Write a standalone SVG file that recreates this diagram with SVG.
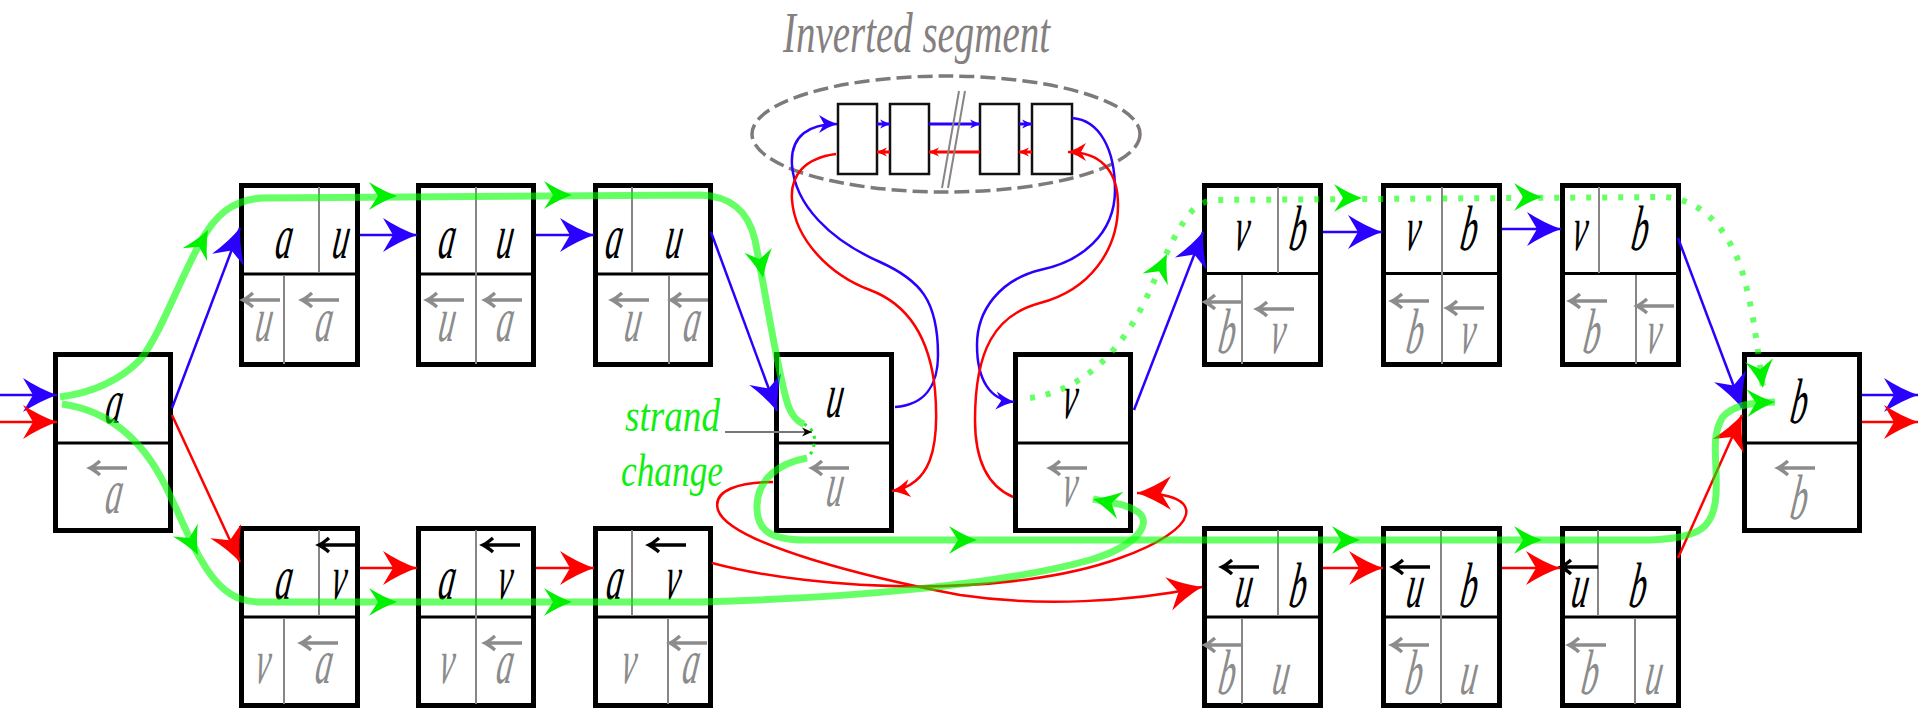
<svg xmlns="http://www.w3.org/2000/svg" width="1920" height="709" viewBox="0 0 1920 709">
<defs>
<style>
.box{fill:#fff;stroke:#000;stroke-width:5}
.sbox{fill:#fff;stroke:#111;stroke-width:2.5}
.hd{stroke:#000;stroke-width:3}
.vd{stroke:#8a8585;stroke-width:2}
.m{font-family:"Liberation Serif","DejaVu Serif",serif;font-style:italic;font-size:64px;text-anchor:middle}
.k{fill:#000}
.g{fill:#8c8c8c}
.ga{fill:none;stroke:#8c8c8c;stroke-width:3.5}
.ka{fill:none;stroke:#000;stroke-width:3.5}
.bl{fill:none;stroke:#2a00ff;stroke-width:2.5}
.rd{fill:none;stroke:#ff0000;stroke-width:2.5}
.th{stroke-width:3}
.gr{fill:none;stroke:#00ff00;stroke-opacity:.6;stroke-width:7}
.gd{fill:none;stroke:#00ff00;stroke-opacity:.6;stroke-width:6;stroke-dasharray:5 11}
.gh{fill:#00f000}
.lbl{font-family:"Liberation Serif","DejaVu Serif",serif;font-style:italic}
</style>
<path id="hL" d="M0,0 Q-17,-6 -34,-17 L-24,0 L-34,17 Q-17,6 0,0Z"/>
<path id="hM" d="M0,0 Q-9,-3 -18,-9 L-13,0 L-18,9 Q-9,3 0,0Z"/>
<path id="hS" d="M0,0 L-10,-4.5 L-7,0 L-10,4.5Z"/>
<path id="hG" d="M0,0 Q-14,-5 -28,-14 L-19,0 L-28,14 Q-14,5 0,0Z"/>
<path id="oa" d="M0,0 H37 M10,-7 Q4,-2 0,0 Q4,2 10,7"/>
<marker id="mbL" viewBox="-40 -20 44 40" markerWidth="44" markerHeight="40" refX="0" refY="0" orient="auto" markerUnits="userSpaceOnUse"><use href="#hL" fill="#2a00ff"/></marker>
<marker id="mrL" viewBox="-40 -20 44 40" markerWidth="44" markerHeight="40" refX="0" refY="0" orient="auto" markerUnits="userSpaceOnUse"><use href="#hL" fill="#ff0000"/></marker>
<marker id="mbM" viewBox="-22 -12 26 24" markerWidth="26" markerHeight="24" refX="0" refY="0" orient="auto" markerUnits="userSpaceOnUse"><use href="#hM" fill="#2a00ff"/></marker>
<marker id="mrM" viewBox="-22 -12 26 24" markerWidth="26" markerHeight="24" refX="0" refY="0" orient="auto" markerUnits="userSpaceOnUse"><use href="#hM" fill="#ff0000"/></marker>
<marker id="mbS" viewBox="-12 -6 14 12" markerWidth="14" markerHeight="12" refX="0" refY="0" orient="auto" markerUnits="userSpaceOnUse"><use href="#hS" fill="#2a00ff"/></marker>
<marker id="mrS" viewBox="-12 -6 14 12" markerWidth="14" markerHeight="12" refX="0" refY="0" orient="auto" markerUnits="userSpaceOnUse"><use href="#hS" fill="#ff0000"/></marker>
<marker id="mkS" viewBox="-12 -6 14 12" markerWidth="14" markerHeight="12" refX="0" refY="0" orient="auto" markerUnits="userSpaceOnUse"><use href="#hS" fill="#000"/></marker>
<marker id="mgE" viewBox="-32 -16 36 32" markerWidth="36" markerHeight="32" refX="0" refY="0" orient="auto" markerUnits="userSpaceOnUse"><use href="#hG" fill="#00f000"/></marker>
</defs>
<rect width="1920" height="709" fill="#fff"/>

<!-- inverted segment -->
<g id="inverted-segment">
<text class="lbl" x="783" y="52" font-size="58" fill="#857f7f" textLength="267" lengthAdjust="spacingAndGlyphs">Inverted segment</text>
<ellipse cx="946" cy="134" rx="194" ry="58" fill="none" stroke="#7f7a7a" stroke-width="3.5" stroke-dasharray="15 6"/>
<rect class="sbox" x="838" y="104" width="39" height="70"/>
<rect class="sbox" x="890" y="104" width="39" height="70"/>
<rect class="sbox" x="980" y="104" width="39" height="70"/>
<rect class="sbox" x="1032" y="104" width="40" height="70"/>
</g>

<!-- left node a -->
<g id="node-a">
<rect class="box" x="55.5" y="354.5" width="115" height="176"/>
<line class="hd" x1="57" y1="443" x2="169" y2="443"/>
<text class="m k" transform="translate(112,423) skewX(-8) scale(.52,1)">a</text>
<use href="#oa" class="ga" x="90" y="468"/>
<text class="m g" transform="translate(112,513) skewX(-8) scale(.52,1)">a</text>
</g>

<!-- upper strand a-u -->
<g id="node-au1">
<rect class="box" x="241.5" y="185.5" width="116" height="179"/>
<line class="hd" x1="243" y1="274" x2="356" y2="274"/>
<line class="vd" x1="319" y1="187" x2="319" y2="273"/>
<line class="vd" x1="284" y1="275" x2="284" y2="364"/>
<text class="m k" transform="translate(282,258) skewX(-8) scale(.52,1)">a</text>
<text class="m k" transform="translate(339,258) skewX(-8) scale(.52,1)">u</text>
<use href="#oa" class="ga" x="243" y="300"/>
<text class="m g" transform="translate(262,341) skewX(-8) scale(.52,1)">u</text>
<use href="#oa" class="ga" x="302" y="300"/>
<text class="m g" transform="translate(322,341) skewX(-8) scale(.52,1)">a</text>
</g>
<g id="node-au2">
<rect class="box" x="418.5" y="185.5" width="115" height="179"/>
<line class="hd" x1="420" y1="274" x2="532" y2="274"/>
<line class="vd" x1="476" y1="187" x2="476" y2="364"/>
<text class="m k" transform="translate(445,258) skewX(-8) scale(.52,1)">a</text>
<text class="m k" transform="translate(503,258) skewX(-8) scale(.52,1)">u</text>
<use href="#oa" class="ga" x="427" y="300"/>
<text class="m g" transform="translate(445,341) skewX(-8) scale(.52,1)">u</text>
<use href="#oa" class="ga" x="485" y="300"/>
<text class="m g" transform="translate(503,341) skewX(-8) scale(.52,1)">a</text>
</g>
<g id="node-au3">
<rect class="box" x="595.5" y="185.5" width="115" height="179"/>
<line class="hd" x1="597" y1="274" x2="709" y2="274"/>
<line class="vd" x1="632" y1="187" x2="632" y2="273"/>
<line class="vd" x1="669" y1="275" x2="669" y2="364"/>
<text class="m k" transform="translate(612,258) skewX(-8) scale(.52,1)">a</text>
<text class="m k" transform="translate(672,258) skewX(-8) scale(.52,1)">u</text>
<use href="#oa" class="ga" x="612" y="300"/>
<text class="m g" transform="translate(631,341) skewX(-8) scale(.52,1)">u</text>
<use href="#oa" class="ga" x="671" y="300"/>
<text class="m g" transform="translate(690,341) skewX(-8) scale(.52,1)">a</text>
</g>

<!-- lower strand a-v -->
<g id="node-av1">
<rect class="box" x="241.5" y="528.5" width="116" height="177"/>
<line class="hd" x1="243" y1="617" x2="356" y2="617"/>
<line class="vd" x1="319" y1="530" x2="319" y2="616"/>
<line class="vd" x1="284" y1="618" x2="284" y2="704"/>
<text class="m k" transform="translate(282,599) skewX(-8) scale(.52,1)">a</text>
<use href="#oa" class="ka" x="319" y="545"/>
<text class="m k" transform="translate(337,599) skewX(-8) scale(.52,1)">v</text>
<text class="m g" transform="translate(261,683) skewX(-8) scale(.52,1)">v</text>
<use href="#oa" class="ga" x="301" y="643"/>
<text class="m g" transform="translate(322,683) skewX(-8) scale(.52,1)">a</text>
</g>
<g id="node-av2">
<rect class="box" x="418.5" y="528.5" width="115" height="177"/>
<line class="hd" x1="420" y1="617" x2="532" y2="617"/>
<line class="vd" x1="476" y1="530" x2="476" y2="704"/>
<text class="m k" transform="translate(445,599) skewX(-8) scale(.52,1)">a</text>
<use href="#oa" class="ka" x="483" y="545"/>
<text class="m k" transform="translate(503,599) skewX(-8) scale(.52,1)">v</text>
<text class="m g" transform="translate(445,683) skewX(-8) scale(.52,1)">v</text>
<use href="#oa" class="ga" x="485" y="643"/>
<text class="m g" transform="translate(503,683) skewX(-8) scale(.52,1)">a</text>
</g>
<g id="node-av3">
<rect class="box" x="595.5" y="528.5" width="115" height="177"/>
<line class="hd" x1="597" y1="617" x2="709" y2="617"/>
<line class="vd" x1="632" y1="530" x2="632" y2="616"/>
<line class="vd" x1="668" y1="618" x2="668" y2="704"/>
<text class="m k" transform="translate(613,599) skewX(-8) scale(.52,1)">a</text>
<use href="#oa" class="ka" x="649" y="545"/>
<text class="m k" transform="translate(671,599) skewX(-8) scale(.52,1)">v</text>
<text class="m g" transform="translate(627,683) skewX(-8) scale(.52,1)">v</text>
<use href="#oa" class="ga" x="670" y="643"/>
<text class="m g" transform="translate(689,683) skewX(-8) scale(.52,1)">a</text>
</g>

<!-- segment ends u and v -->
<g id="node-u">
<rect class="box" x="776.5" y="354.5" width="115" height="176"/>
<line class="hd" x1="778" y1="443" x2="890" y2="443"/>
<text class="m k" transform="translate(833,417) skewX(-8) scale(.52,1)">u</text>
<use href="#oa" class="ga" x="812" y="468"/>
<text class="m g" transform="translate(833,506) skewX(-8) scale(.52,1)">u</text>
</g>
<g id="node-v">
<rect class="box" x="1015.5" y="354.5" width="115" height="176"/>
<line class="hd" x1="1017" y1="443" x2="1129" y2="443"/>
<text class="m k" transform="translate(1068,418) skewX(-8) scale(.52,1)">v</text>
<use href="#oa" class="ga" x="1050" y="468"/>
<text class="m g" transform="translate(1068,506) skewX(-8) scale(.52,1)">v</text>
</g>

<!-- upper strand v-b -->
<g id="node-vb1">
<rect class="box" x="1204.5" y="185.5" width="116" height="179"/>
<line class="hd" x1="1206" y1="273.5" x2="1319" y2="273.5"/>
<line class="vd" x1="1278" y1="187" x2="1278" y2="273"/>
<line class="vd" x1="1242" y1="275" x2="1242" y2="364"/>
<text class="m k" transform="translate(1240,250) skewX(-8) scale(.52,1)">v</text>
<text class="m k" transform="translate(1296,250) skewX(-8) scale(.52,1)">b</text>
<use href="#oa" class="ga" x="1205" y="302"/>
<text class="m g" transform="translate(1225,353) skewX(-8) scale(.52,1)">b</text>
<use href="#oa" class="ga" x="1257" y="309"/>
<text class="m g" transform="translate(1276,353) skewX(-8) scale(.52,1)">v</text>
</g>
<g id="node-vb2">
<rect class="box" x="1383.5" y="185.5" width="116" height="179"/>
<line class="hd" x1="1385" y1="273.5" x2="1498" y2="273.5"/>
<line class="vd" x1="1442" y1="187" x2="1442" y2="364"/>
<text class="m k" transform="translate(1411,250) skewX(-8) scale(.52,1)">v</text>
<text class="m k" transform="translate(1467,250) skewX(-8) scale(.52,1)">b</text>
<use href="#oa" class="ga" x="1392" y="301"/>
<text class="m g" transform="translate(1413,353) skewX(-8) scale(.52,1)">b</text>
<use href="#oa" class="ga" x="1447" y="308"/>
<text class="m g" transform="translate(1466,353) skewX(-8) scale(.52,1)">v</text>
</g>
<g id="node-vb3">
<rect class="box" x="1562.5" y="185.5" width="116" height="179"/>
<line class="hd" x1="1564" y1="273.5" x2="1677" y2="273.5"/>
<line class="vd" x1="1599" y1="187" x2="1599" y2="273"/>
<line class="vd" x1="1636" y1="275" x2="1636" y2="364"/>
<text class="m k" transform="translate(1578,250) skewX(-8) scale(.52,1)">v</text>
<text class="m k" transform="translate(1638,250) skewX(-8) scale(.52,1)">b</text>
<use href="#oa" class="ga" x="1570" y="301"/>
<text class="m g" transform="translate(1590,353) skewX(-8) scale(.52,1)">b</text>
<use href="#oa" class="ga" x="1637" y="306"/>
<text class="m g" transform="translate(1652,353) skewX(-8) scale(.52,1)">v</text>
</g>

<!-- lower strand u-b -->
<g id="node-ub1">
<rect class="box" x="1204.5" y="528.5" width="116" height="177"/>
<line class="hd" x1="1206" y1="617" x2="1319" y2="617"/>
<line class="vd" x1="1278" y1="530" x2="1278" y2="616"/>
<line class="vd" x1="1242" y1="618" x2="1242" y2="704"/>
<use href="#oa" class="ka" x="1222" y="567"/>
<text class="m k" transform="translate(1242,607) skewX(-8) scale(.52,1)">u</text>
<text class="m k" transform="translate(1296,607) skewX(-8) scale(.52,1)">b</text>
<use href="#oa" class="ga" x="1205" y="645"/>
<text class="m g" transform="translate(1225,694) skewX(-8) scale(.52,1)">b</text>
<text class="m g" transform="translate(1279,694) skewX(-8) scale(.52,1)">u</text>
</g>
<g id="node-ub2">
<rect class="box" x="1383.5" y="528.5" width="116" height="177"/>
<line class="hd" x1="1385" y1="617" x2="1498" y2="617"/>
<line class="vd" x1="1441" y1="530" x2="1441" y2="704"/>
<use href="#oa" class="ka" x="1393" y="567"/>
<text class="m k" transform="translate(1413,607) skewX(-8) scale(.52,1)">u</text>
<text class="m k" transform="translate(1467,607) skewX(-8) scale(.52,1)">b</text>
<use href="#oa" class="ga" x="1392" y="645"/>
<text class="m g" transform="translate(1412,694) skewX(-8) scale(.52,1)">b</text>
<text class="m g" transform="translate(1467,694) skewX(-8) scale(.52,1)">u</text>
</g>
<g id="node-ub3">
<rect class="box" x="1562.5" y="528.5" width="116" height="177"/>
<line class="hd" x1="1564" y1="617" x2="1677" y2="617"/>
<line class="vd" x1="1598" y1="530" x2="1598" y2="616"/>
<line class="vd" x1="1635" y1="618" x2="1635" y2="704"/>
<use href="#oa" class="ka" x="1561" y="567"/>
<text class="m k" transform="translate(1578,607) skewX(-8) scale(.52,1)">u</text>
<text class="m k" transform="translate(1636,607) skewX(-8) scale(.52,1)">b</text>
<use href="#oa" class="ga" x="1569" y="645"/>
<text class="m g" transform="translate(1588,694) skewX(-8) scale(.52,1)">b</text>
<text class="m g" transform="translate(1652,694) skewX(-8) scale(.52,1)">u</text>
</g>

<!-- right node b -->
<g id="node-b">
<rect class="box" x="1744.5" y="354.5" width="115" height="176"/>
<line class="hd" x1="1746" y1="443" x2="1858" y2="443"/>
<text class="m k" transform="translate(1797,423) skewX(-8) scale(.52,1)">b</text>
<use href="#oa" class="ga" x="1778" y="468"/>
<text class="m g" transform="translate(1797,519) skewX(-8) scale(.52,1)">b</text>
</g>

<g id="connectors">
<!-- blue strand -->
<g id="blue">
<path class="bl" d="M-5 395H57" marker-end="url(#mbL)"/>
<path class="bl" d="M172 408L240 228" marker-end="url(#mbL)"/>
<path class="bl" d="M360 235H417" marker-end="url(#mbL)"/>
<path class="bl" d="M536 235H594" marker-end="url(#mbL)"/>
<path class="bl" d="M711 232L777 411" marker-end="url(#mbL)"/>
<path class="bl" d="M895 407C925 405 938 385 938 355C938 300 920 280 880 262C830 240 795 205 792 165C790 135 810 124 837 124" marker-end="url(#mbM)"/>
<path class="bl th" d="M877 124H890" marker-end="url(#mbS)"/>
<path class="bl th" d="M929 124H980" marker-end="url(#mbS)"/>
<path class="bl th" d="M1019 124H1032" marker-end="url(#mbS)"/>
<path class="bl" d="M1072 118C1100 120 1115 150 1115 190C1115 235 1080 262 1040 270C1000 280 977 310 977 345C977 380 990 400 1014 402" marker-end="url(#mbM)"/>
<path class="bl" d="M1134 410L1203 232" marker-end="url(#mbL)"/>
<path class="bl" d="M1323 232H1382" marker-end="url(#mbL)"/>
<path class="bl" d="M1502 229H1561" marker-end="url(#mbL)"/>
<path class="bl" d="M1678 238L1742 408" marker-end="url(#mbL)"/>
<path class="bl" d="M1862 395H1918" marker-end="url(#mbL)"/>
</g>
<!-- red strand -->
<g id="red">
<path class="rd" d="M-5 422H57" marker-end="url(#mrL)"/>
<path class="rd" d="M172 415L240 562" marker-end="url(#mrL)"/>
<path class="rd" d="M360 568H417" marker-end="url(#mrL)"/>
<path class="rd" d="M536 568H594" marker-end="url(#mrL)"/>
<path class="rd" d="M712 563C820 592 1010 598 1120 558C1200 530 1210 493 1137 493" marker-end="url(#mrL)"/>
<path class="rd" d="M1013 497C985 485 975 455 975 420C975 350 995 315 1040 303C1090 290 1118 250 1118 205C1118 170 1100 152 1068 152" marker-end="url(#mrM)"/>
<path class="rd th" d="M1032 152H1019" marker-end="url(#mrS)"/>
<path class="rd th" d="M980 152H929" marker-end="url(#mrS)"/>
<path class="rd th" d="M890 152H877" marker-end="url(#mrS)"/>
<path class="rd" d="M836 154C805 158 790 175 792 200C795 240 830 275 870 290C910 305 930 340 935 390C940 450 930 485 892 491" marker-end="url(#mrM)"/>
<path class="rd" d="M773 482C740 482 712 490 718 510C730 545 880 580 960 595C1040 607 1130 602 1202 587" marker-end="url(#mrL)"/>
<path class="rd" d="M1323 568H1383" marker-end="url(#mrL)"/>
<path class="rd" d="M1502 568H1560" marker-end="url(#mrL)"/>
<path class="rd" d="M1678 558L1742 415" marker-end="url(#mrL)"/>
<path class="rd" d="M1862 422H1918" marker-end="url(#mrL)"/>
</g>
<!-- segment break mark -->
<g stroke="#8a8585" stroke-width="2">
<line x1="942" y1="188" x2="959" y2="91"/>
<line x1="948" y1="188" x2="965" y2="91"/>
</g>
<!-- green walks -->
<g id="green">
<path class="gr" d="M60 397C90 393 118 382 140 360C160 335 175 290 200 243C215 215 232 200 262 198L700 195C730 196 748 210 755 240C765 290 778 375 788 405C793 418 798 422 804 424"/>
<path d="M804 424C812 428 816 435 814 445C812 452 810 456 807 458" fill="none" stroke="#22ee22" stroke-width="3" stroke-dasharray="3 5"/>
<path class="gr" d="M807 458C780 463 758 478 757 505C756 530 770 540 805 540L1650 540C1700 538 1714 528 1716 495C1718 460 1710 440 1722 418C1732 405 1750 403 1775 402" marker-end="url(#mgE)"/>
<path class="gr" d="M62 404C105 410 140 435 165 485C185 525 200 570 225 590C235 598 245 602 262 602L700 602C850 598 1000 585 1090 560C1140 545 1152 522 1138 512C1125 503 1110 503 1093 499" marker-end="url(#mgE)"/>
<path class="gd" d="M1030 398C1070 392 1100 370 1125 335C1150 300 1160 260 1180 228C1190 210 1200 201 1215 200L1665 197C1700 200 1725 225 1740 265C1752 300 1757 345 1763 388" marker-end="url(#mgE)"/>
<use href="#hG" class="gh" transform="translate(208,230) rotate(-62)"/>
<use href="#hG" class="gh" transform="translate(397,196)"/>
<use href="#hG" class="gh" transform="translate(572,195)"/>
<use href="#hG" class="gh" transform="translate(763,278) rotate(80)"/>
<use href="#hG" class="gh" transform="translate(198,555) rotate(63)"/>
<use href="#hG" class="gh" transform="translate(397,602)"/>
<use href="#hG" class="gh" transform="translate(572,602)"/>
<use href="#hG" class="gh" transform="translate(977,540)"/>
<use href="#hG" class="gh" transform="translate(1360,540)"/>
<use href="#hG" class="gh" transform="translate(1542,540)"/>
<use href="#hG" class="gh" transform="translate(1167,254) rotate(-65)"/>
<use href="#hG" class="gh" transform="translate(1362,198)"/>
<use href="#hG" class="gh" transform="translate(1542,197)"/>
</g>
<!-- strand change label pointer -->
<path d="M725 432H812" fill="none" stroke="#777" stroke-width="2" marker-end="url(#mkS)"/>
</g>

<g id="label-strand-change" class="lbl" font-size="46" fill="#11ee11">
<text x="625" y="431" textLength="95" lengthAdjust="spacingAndGlyphs">strand</text>
<text x="621" y="486" textLength="102" lengthAdjust="spacingAndGlyphs">change</text>
</g>
</svg>
